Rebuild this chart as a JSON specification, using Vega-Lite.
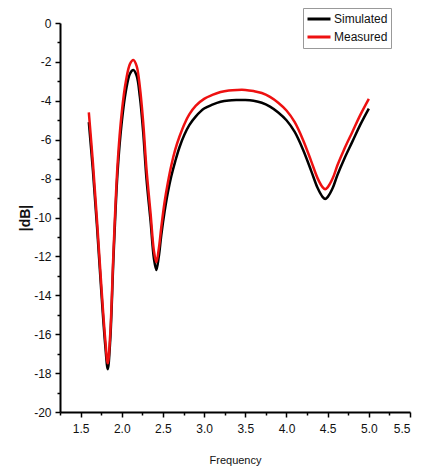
{
  "$schema": "https://vega.github.io/schema/vega-lite/v6.json",
  "autosize": {"type": "none"},
  "padding": {"left": 60, "top": 23, "right": 12, "bottom": 58},
  "width": 350,
  "height": 389,
  "background": "white",
  "config": {
    "view": {"stroke": null},
    "font": "Liberation Sans",
    "axis": {
      "grid": false,
      "domainColor": "#000000",
      "domainWidth": 2,
      "tickColor": "#000000",
      "tickWidth": 1.5,
      "tickSize": 5,
      "labelFont": "Liberation Sans",
      "labelFontSize": 12,
      "labelColor": "#111111",
      "titleFont": "Liberation Sans",
      "titleColor": "#111111"
    }
  },
  "data": {
    "values": [
      {"series": "Simulated", "freq": 1.60, "db": -5.1},
      {"series": "Simulated", "freq": 1.65, "db": -7.6},
      {"series": "Simulated", "freq": 1.70, "db": -10.5},
      {"series": "Simulated", "freq": 1.75, "db": -13.7},
      {"series": "Simulated", "freq": 1.80, "db": -16.6},
      {"series": "Simulated", "freq": 1.83, "db": -17.8},
      {"series": "Simulated", "freq": 1.86, "db": -16.3},
      {"series": "Simulated", "freq": 1.90, "db": -12.0},
      {"series": "Simulated", "freq": 1.95, "db": -7.6},
      {"series": "Simulated", "freq": 2.00, "db": -5.1},
      {"series": "Simulated", "freq": 2.05, "db": -3.5},
      {"series": "Simulated", "freq": 2.10, "db": -2.6},
      {"series": "Simulated", "freq": 2.14, "db": -2.42},
      {"series": "Simulated", "freq": 2.18, "db": -2.7},
      {"series": "Simulated", "freq": 2.22, "db": -3.8},
      {"series": "Simulated", "freq": 2.26, "db": -5.6},
      {"series": "Simulated", "freq": 2.30, "db": -8.0},
      {"series": "Simulated", "freq": 2.35, "db": -10.2},
      {"series": "Simulated", "freq": 2.39, "db": -12.1},
      {"series": "Simulated", "freq": 2.42, "db": -12.7},
      {"series": "Simulated", "freq": 2.45, "db": -12.0},
      {"series": "Simulated", "freq": 2.48, "db": -10.9},
      {"series": "Simulated", "freq": 2.52, "db": -9.7},
      {"series": "Simulated", "freq": 2.56, "db": -8.7},
      {"series": "Simulated", "freq": 2.60, "db": -7.9},
      {"series": "Simulated", "freq": 2.65, "db": -7.1},
      {"series": "Simulated", "freq": 2.70, "db": -6.4},
      {"series": "Simulated", "freq": 2.76, "db": -5.75},
      {"series": "Simulated", "freq": 2.82, "db": -5.25},
      {"series": "Simulated", "freq": 2.90, "db": -4.8},
      {"series": "Simulated", "freq": 3.00, "db": -4.4},
      {"series": "Simulated", "freq": 3.10, "db": -4.2},
      {"series": "Simulated", "freq": 3.20, "db": -4.05},
      {"series": "Simulated", "freq": 3.30, "db": -3.98},
      {"series": "Simulated", "freq": 3.40, "db": -3.96},
      {"series": "Simulated", "freq": 3.50, "db": -3.96},
      {"series": "Simulated", "freq": 3.60, "db": -4.0},
      {"series": "Simulated", "freq": 3.70, "db": -4.1},
      {"series": "Simulated", "freq": 3.80, "db": -4.3},
      {"series": "Simulated", "freq": 3.90, "db": -4.6},
      {"series": "Simulated", "freq": 4.00, "db": -5.0},
      {"series": "Simulated", "freq": 4.10, "db": -5.6},
      {"series": "Simulated", "freq": 4.20, "db": -6.5},
      {"series": "Simulated", "freq": 4.30, "db": -7.6},
      {"series": "Simulated", "freq": 4.38, "db": -8.5},
      {"series": "Simulated", "freq": 4.44, "db": -8.95},
      {"series": "Simulated", "freq": 4.47, "db": -9.05},
      {"series": "Simulated", "freq": 4.50, "db": -8.95},
      {"series": "Simulated", "freq": 4.56, "db": -8.5},
      {"series": "Simulated", "freq": 4.62, "db": -7.8},
      {"series": "Simulated", "freq": 4.70, "db": -7.0},
      {"series": "Simulated", "freq": 4.80, "db": -6.1},
      {"series": "Simulated", "freq": 4.90, "db": -5.2},
      {"series": "Simulated", "freq": 5.00, "db": -4.4},
      {"series": "Measured", "freq": 1.60, "db": -4.6},
      {"series": "Measured", "freq": 1.65, "db": -7.2},
      {"series": "Measured", "freq": 1.70, "db": -10.2},
      {"series": "Measured", "freq": 1.75, "db": -13.4},
      {"series": "Measured", "freq": 1.80, "db": -16.3},
      {"series": "Measured", "freq": 1.83, "db": -17.5},
      {"series": "Measured", "freq": 1.86, "db": -16.0},
      {"series": "Measured", "freq": 1.90, "db": -11.7},
      {"series": "Measured", "freq": 1.95, "db": -7.2},
      {"series": "Measured", "freq": 2.00, "db": -4.6},
      {"series": "Measured", "freq": 2.05, "db": -3.0},
      {"series": "Measured", "freq": 2.10, "db": -2.1},
      {"series": "Measured", "freq": 2.14, "db": -1.9},
      {"series": "Measured", "freq": 2.18, "db": -2.2},
      {"series": "Measured", "freq": 2.22, "db": -3.3},
      {"series": "Measured", "freq": 2.26, "db": -5.1},
      {"series": "Measured", "freq": 2.30, "db": -7.5},
      {"series": "Measured", "freq": 2.35, "db": -9.8},
      {"series": "Measured", "freq": 2.39, "db": -11.7},
      {"series": "Measured", "freq": 2.42, "db": -12.3},
      {"series": "Measured", "freq": 2.45, "db": -11.6},
      {"series": "Measured", "freq": 2.48, "db": -10.5},
      {"series": "Measured", "freq": 2.52, "db": -9.2},
      {"series": "Measured", "freq": 2.56, "db": -8.2},
      {"series": "Measured", "freq": 2.60, "db": -7.35},
      {"series": "Measured", "freq": 2.65, "db": -6.5},
      {"series": "Measured", "freq": 2.70, "db": -5.85},
      {"series": "Measured", "freq": 2.76, "db": -5.2},
      {"series": "Measured", "freq": 2.82, "db": -4.7},
      {"series": "Measured", "freq": 2.90, "db": -4.25},
      {"series": "Measured", "freq": 3.00, "db": -3.9},
      {"series": "Measured", "freq": 3.10, "db": -3.7},
      {"series": "Measured", "freq": 3.20, "db": -3.55},
      {"series": "Measured", "freq": 3.30, "db": -3.47},
      {"series": "Measured", "freq": 3.40, "db": -3.44},
      {"series": "Measured", "freq": 3.50, "db": -3.44},
      {"series": "Measured", "freq": 3.60, "db": -3.5},
      {"series": "Measured", "freq": 3.70, "db": -3.6},
      {"series": "Measured", "freq": 3.80, "db": -3.8},
      {"series": "Measured", "freq": 3.90, "db": -4.1},
      {"series": "Measured", "freq": 4.00, "db": -4.5},
      {"series": "Measured", "freq": 4.10, "db": -5.1},
      {"series": "Measured", "freq": 4.20, "db": -6.0},
      {"series": "Measured", "freq": 4.30, "db": -7.1},
      {"series": "Measured", "freq": 4.38, "db": -8.0},
      {"series": "Measured", "freq": 4.44, "db": -8.45},
      {"series": "Measured", "freq": 4.47, "db": -8.55},
      {"series": "Measured", "freq": 4.50, "db": -8.45},
      {"series": "Measured", "freq": 4.56, "db": -8.0},
      {"series": "Measured", "freq": 4.62, "db": -7.3},
      {"series": "Measured", "freq": 4.70, "db": -6.5},
      {"series": "Measured", "freq": 4.80, "db": -5.6},
      {"series": "Measured", "freq": 4.90, "db": -4.7},
      {"series": "Measured", "freq": 5.00, "db": -3.9}
    ]
  },
  "layer": [
    {
      "mark": {"type": "line", "strokeOpacity": 0},
      "encoding": {
        "x": {
          "field": "freq", "type": "quantitative",
          "scale": {"domain": [1.25, 5.5], "nice": false, "zero": false},
          "axis": {"orient": "bottom", "values": [1.25, 1.75, 2.25, 2.75, 3.25, 3.75, 4.25, 4.75, 5.25], "labels": false, "domain": false, "tickSize": 3, "title": null}
        },
        "y": {
          "field": "db", "type": "quantitative",
          "scale": {"domain": [-20, 0], "nice": false, "zero": false},
          "axis": {"orient": "left", "values": [-19, -17, -15, -13, -11, -9, -7, -5, -3, -1], "labels": false, "domain": false, "tickSize": 3, "title": null}
        },
        "detail": {"field": "series"}
      }
    },
    {
      "mark": {"type": "line", "interpolate": "catmull-rom", "strokeWidth": 2.5},
      "encoding": {
        "x": {
          "field": "freq", "type": "quantitative",
          "scale": {"domain": [1.25, 5.5], "nice": false, "zero": false},
          "axis": {
            "orient": "bottom",
            "values": [1.5, 2.0, 2.5, 3.0, 3.5, 4.0, 4.5, 5.0, 5.5],
            "labelExpr": "format(datum.value, '.1f')",
            "labelPadding": 6,
            "title": "Frequency",
            "titleFontSize": 11,
            "titleFontWeight": "normal",
            "titleY": 48,
            "titleBaseline": "middle"
          }
        },
        "y": {
          "field": "db", "type": "quantitative",
          "scale": {"domain": [-20, 0], "nice": false, "zero": false},
          "axis": {
            "orient": "left",
            "values": [-20, -18, -16, -14, -12, -10, -8, -6, -4, -2, 0],
            "labelExpr": "'' + datum.value",
            "labelPadding": 4,
            "title": "|dB|",
            "titleFontSize": 14,
            "titleFontWeight": "bold",
            "titleX": -35,
            "titleBaseline": "middle"
          }
        },
        "color": {
          "field": "series", "type": "nominal",
          "scale": {"domain": ["Simulated", "Measured"], "range": ["#000000", "#ee1111"]},
          "legend": {
            "title": null,
            "orient": "none",
            "legendX": 243,
            "legendY": -15,
            "direction": "vertical",
            "symbolType": "stroke",
            "symbolSize": 529,
            "symbolStrokeWidth": 3,
            "clipHeight": 16,
            "rowPadding": 2,
            "labelFontSize": 12,
            "labelFont": "Liberation Sans",
            "labelColor": "#111111",
            "labelOffset": 2,
            "padding": 3,
            "strokeColor": "#999999",
            "fillColor": "#ffffff"
          }
        }
      }
    }
  ],
  "resolve": {"axis": {"x": "independent", "y": "independent"}}
}
